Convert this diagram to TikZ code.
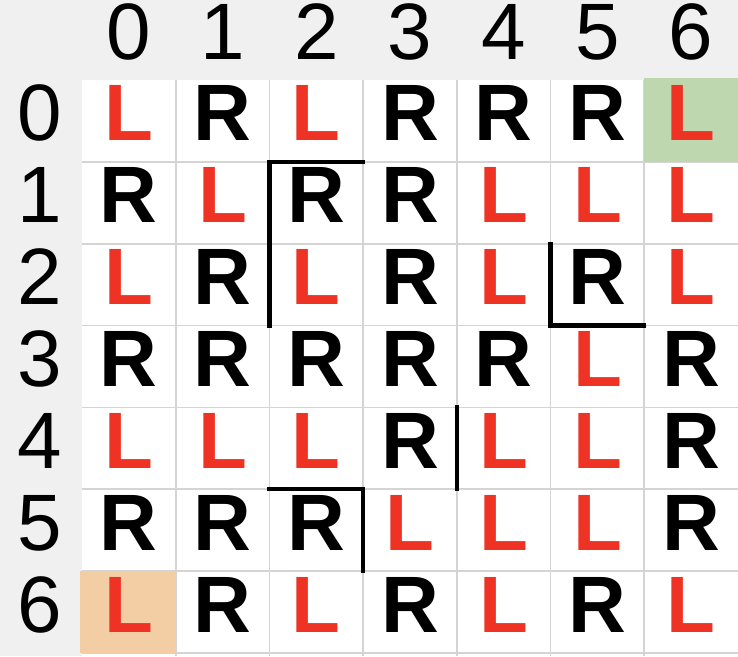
\documentclass[tikz,border=0pt]{standalone}
\usepackage{fontspec}
\setmainfont{Liberation Sans}
\definecolor{hdr}{HTML}{F0F0F0}
\definecolor{gridc}{HTML}{D4D4D4}
\definecolor{redL}{HTML}{EE3224}
\definecolor{greenc}{HTML}{BFD7AE}
\definecolor{orangec}{HTML}{F3CDA3}
\begin{document}
\begin{tikzpicture}[x=1pt,y=1pt,
  cellR/.style={anchor=base, inner sep=0pt, text height=58pt, text depth=0pt, font=\fontsize{80}{90}\selectfont\bfseries, text=black},
  cellL/.style={anchor=base, inner sep=0pt, text height=58pt, text depth=0pt, font=\fontsize{80}{90}\selectfont\bfseries, text=redL},
  hnum/.style={anchor=base, inner sep=0pt, text height=58pt, text depth=0pt, font=\fontsize{80}{90}\selectfont, text=black},
  gridline/.style={draw=gridc, line width=1.6pt},
  wall/.style={draw=black, line width=4.2pt, line cap=rect, line join=miter}]
\useasboundingbox (0,0) rectangle (738,656);
\fill[hdr] (0,0) rectangle (738,656);
\fill[white] (82,0) rectangle (738,576);
% grid corners
\foreach \i in {0,...,7}{
  \foreach \j in {0,...,7}{
    \coordinate (g-\i-\j) at ({82+\i*93.714},{576-\j*81.857});
  }
}
\foreach \i in {1,...,6}{
  \coordinate (b-\i) at ({82+\i*93.714},0);
  \draw[gridline] (g-\i-0) -- (b-\i);
}
\foreach \j in {1,...,7}{
  \draw[gridline] (g-0-\j) -- (g-7-\j);
}
% highlighted cells
\fill[greenc] (644,578) rectangle (738,494.1);
\fill[orangec] (80,84.6) rectangle (175.7,3);
% header numbers
\foreach \k in {0,...,6}{
  \node[hnum] (col-\k) at ({82+(\k+0.5)*93.714},596) {\k};
  \node[hnum] (row-\k) at (40,{576-(\k+1)*81.857+21}) {\k};
}
% cell letters
\foreach \rowdata [count=\r from 0] in {
  {L,R,L,R,R,R,L},
  {R,L,R,R,L,L,L},
  {L,R,L,R,L,R,L},
  {R,R,R,R,R,L,R},
  {L,L,L,R,L,L,R},
  {R,R,R,L,L,L,R},
  {L,R,L,R,L,R,L}}{
  \foreach \ch [count=\c from 0] in \rowdata {
    \node[cell\ch] (c-\r-\c) at ({82+(\c+0.5)*93.714},{576-(\r+1)*81.857+21}) {\ch};
  }
}
% thick walls
\draw[wall] (g-3-1) -- (g-2-1) -- (g-2-3);
\draw[wall] (g-5-2) -- (g-5-3) -- (g-6-3);
\draw[wall] (g-4-4) -- (g-4-5);
\draw[wall] (g-2-5) -- (g-3-5) -- (g-3-6);
\end{tikzpicture}
\end{document}
